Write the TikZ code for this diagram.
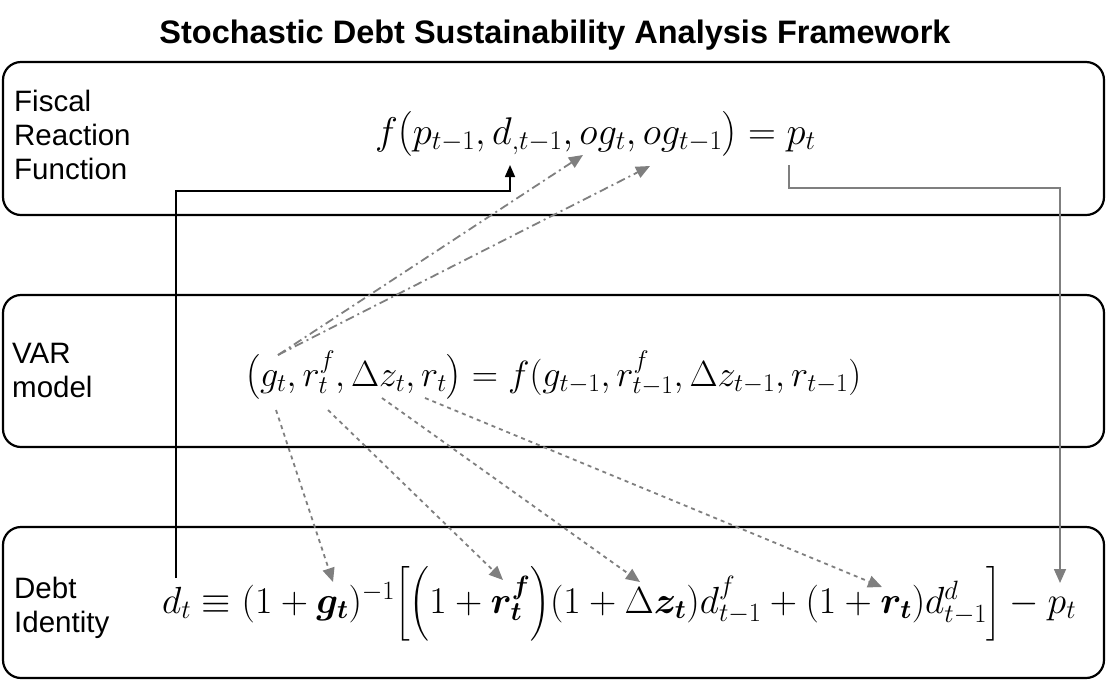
\RequirePackage{fix-cm}
\documentclass[tikz,border=0pt]{standalone}
\usepackage{amsmath,bm}
\usepackage{fontspec}
\setmainfont{Liberation Sans}
\usetikzlibrary{arrows.meta, positioning, calc}
\definecolor{cInk}{HTML}{000000}
\definecolor{cLink}{HTML}{7F7F7F}
\tikzset{
  band/.style={draw=cInk, line width=2.2pt, rounded corners=18pt},
  tag/.style={anchor=base west, align=left, inner sep=0pt, font=\fontsize{29.5}{34}\selectfont},
  eqn/.style={anchor=base west, inner sep=0pt, font=\fontsize{#1}{#1}\selectfont},
  lead/.style={-{Triangle[length=12pt, width=10pt]}, draw=cInk, line width=1.6pt},
  back/.style={-{Triangle[length=14pt, width=12pt]}, draw=cLink, line width=1.6pt},
  shock/.style={-{Triangle[length=14pt, width=12pt]}, draw=cLink, line width=1.8pt, dash pattern=on 9pt off 4pt on 2pt off 4pt},
  pass/.style={-{Triangle[length=14pt, width=12pt]}, draw=cLink, line width=1.8pt, dash pattern=on 4pt off 4pt},
}

\begin{document}
\begin{tikzpicture}[x=1pt, y=-1pt]
\useasboundingbox (0,0) rectangle (1107,681);
% title
\node[font=\bfseries\fontsize{32.5}{36}\selectfont] (title) at (555,35) {Stochastic Debt Sustainability Analysis Framework};
% the three blocks
\draw[band] (3,62) rectangle (1104,215);
\draw[band] (3,295) rectangle (1104,447);
\draw[band] (3,527) rectangle (1104,678);
\node[tag] (frf) at (14,179) {Fiscal\\Reaction\\Function};
\node[tag] (var) at (12,397) {VAR\\model};
\node[tag] (debt) at (14,632) {Debt\\Identity};
% equations
\node[eqn=38.6] (eqfrf) at (375,144) {$f\big(p_{t-1},d_{,t-1},og_t,og_{t-1}\big)=p_t$};
\node[eqn=36.4] (eqvar) at (245,386) {$\big(g_t,r^f_t,\Delta z_t,r_t\big)=f(g_{t-1},r^f_{t-1},\Delta z_{t-1},r_{t-1})$};
\node[eqn=37.8] (eqdebt) at (162,613) {$d_t\equiv(1+\bm{g_t})^{-1}\Big[\Big(1+\bm{r^f_t}\Big)(1+\Delta\bm{z_t})d^f_{t-1}+(1+\bm{r_t})d^d_{t-1}\Big]-p_t$};
% anchor points inside the equations
\coordinate (dlag) at (510,165);
\coordinate (ogt) at (583,155);
\coordinate (ogl) at (650,166);
\coordinate (pfrf) at (789,165);
\coordinate (gvar) at (278,355);
\coordinate (gout) at (276,410);
\coordinate (rfout) at (328,410);
\coordinate (zout) at (382,398);
\coordinate (rout) at (425,398);
\coordinate (dfoot) at (176,578);
\coordinate (gin) at (333,582);
\coordinate (rfin) at (503,580);
\coordinate (zin) at (640,582);
\coordinate (rin) at (882,587);
\coordinate (pin) at (1060,583);
% links
\draw[lead] (dfoot) |- ($(dlag)+(0,26)$) -- (dlag);
\draw[back] (pfrf) -- ++(0,23) -| (pin);
\draw[shock] (gvar) -- (ogt);
\draw[shock] (gvar) -- (ogl);
\draw[pass] (gout) -- (gin);
\draw[pass] (rfout) -- (rfin);
\draw[pass] (zout) -- (zin);
\draw[pass] (rout) -- (rin);
\end{tikzpicture}
\end{document}
